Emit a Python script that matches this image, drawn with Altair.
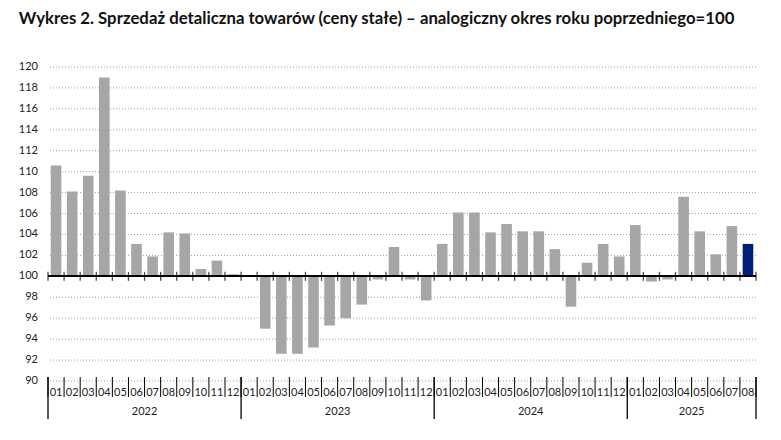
import altair as alt
import pandas as pd

# Dane: sprzedaż detaliczna (analogiczny okres roku poprzedniego=100)
years = ["2022"] * 12 + ["2023"] * 12 + ["2024"] * 12 + ["2025"] * 8
months = ["01", "02", "03", "04", "05", "06", "07", "08", "09", "10", "11", "12"] * 3 + \
         ["01", "02", "03", "04", "05", "06", "07", "08"]
values = [110.6, 108.1, 109.6, 119.0, 108.2, 103.1, 101.9, 104.2, 104.1, 100.7, 101.5, 100.2,
          100.1, 95.0, 92.6, 92.6, 93.2, 95.3, 96.0, 97.3, 99.7, 102.8, 99.7, 97.7,
          103.1, 106.1, 106.1, 104.2, 105.0, 104.3, 104.3, 102.6, 97.1, 101.3, 103.1, 101.9,
          104.9, 99.5, 99.7, 107.6, 104.3, 102.1, 104.8, 103.1]
year_starts = [0, 12, 24, 36, 44]
y_ticks = list(range(90, 121, 2))

W, H = 708, 314
FONT = "Lato"

df = pd.DataFrame({"idx": range(len(values)), "year": years, "month": months, "value": values})
df["base"] = 100
df["last"] = df["idx"] == df["idx"].max()

bounds = pd.DataFrame({"pos": range(len(values) + 1)})
bounds["kind"] = ["year" if p in year_starts else "month" for p in bounds["pos"]]
bounds["base"] = 100

grid = pd.DataFrame({"tick": y_ticks})

xs = alt.Scale(domain=[0, len(values)], nice=False, zero=False)
ys = alt.Scale(domain=[90, 120], nice=False)

# siatka i etykiety osi Y
grid_lines = alt.Chart(grid).mark_rule(color="#a0a0a0", strokeWidth=1, strokeDash=[1, 2]).encode(
    y=alt.Y("tick:Q", scale=ys, axis=None)
)
grid_lbl = alt.Chart(grid).mark_text(
    font=FONT, fontSize=11, color="#222", align="right", baseline="middle"
).encode(
    x=alt.value(-10),
    y=alt.Y("tick:Q", scale=ys, axis=None),
    text="tick:Q",
)

bars = alt.Chart(df).transform_calculate(
    x0="datum.idx + 0.17", x1="datum.idx + 0.83"
).mark_bar().encode(
    x=alt.X("x0:Q", scale=xs, axis=None),
    x2="x1:Q",
    y=alt.Y("value:Q", scale=ys, axis=None),
    y2="base:Q",
    color=alt.condition("datum.last", alt.value("#001f78"), alt.value("#a6a6a6")),
)

zero_line = alt.Chart(df).mark_rule(color="black", strokeWidth=1.5).encode(
    y=alt.Y("base:Q", scale=ys, axis=None)
)

zero_ticks = alt.Chart(bounds).mark_tick(orient="vertical", size=9, thickness=1.3, color="black").encode(
    x=alt.X("pos:Q", scale=xs, axis=None),
    y=alt.Y("base:Q", scale=ys, axis=None),
)

month_sep = alt.Chart(bounds).mark_rule(color="black", strokeWidth=1).encode(
    x=alt.X("pos:Q", scale=xs, axis=None),
    y=alt.value(H - 4),
    y2=alt.value(H + 16),
)

year_sep = alt.Chart(bounds).transform_filter("datum.kind == 'year'").mark_rule(
    color="black", strokeWidth=1.3
).encode(
    x=alt.X("pos:Q", scale=xs, axis=None),
    y=alt.value(H - 4),
    y2=alt.value(H + 38),
)

month_lbl = alt.Chart(df).transform_calculate(xc="datum.idx + 0.5").mark_text(
    font=FONT, fontSize=11, color="#222", baseline="middle"
).encode(
    x=alt.X("xc:Q", scale=xs, axis=None),
    y=alt.value(H + 12),
    text="month:N",
)

year_lbl = alt.Chart(df).transform_calculate(xc="datum.idx + 0.5").transform_aggregate(
    center="mean(xc)", groupby=["year"]
).mark_text(font=FONT, fontSize=11, color="#222", baseline="middle").encode(
    x=alt.X("center:Q", scale=xs, axis=None),
    y=alt.value(H + 31),
    text="year:N",
)

chart = alt.layer(
    grid_lines, grid_lbl, bars, zero_line, zero_ticks, month_sep, year_sep, month_lbl, year_lbl
).properties(
    width=W,
    height=H,
    padding={"left": 10, "top": 3, "right": 10, "bottom": 0},
    title=alt.TitleParams(
        "Wykres 2. Sprzedaż detaliczna towarów (ceny stałe) – analogiczny okres roku poprzedniego=100",
        anchor="start", frame="bounds", font=FONT, fontSize=16.75, fontWeight="bold",
        color="#111", offset=33, limit=760,
    ),
).configure_view(stroke=None)

chart.save("out.html", embed_options={"renderer": "svg", "actions": False})
